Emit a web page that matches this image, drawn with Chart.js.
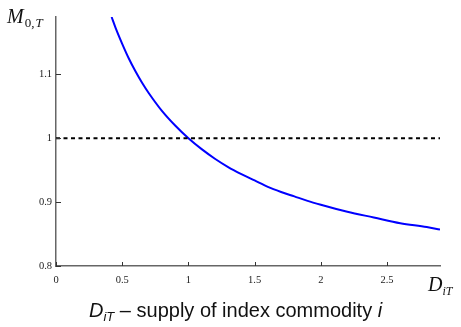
<!DOCTYPE html>
<html>
<head>
<meta charset="utf-8">
<script src="https://cdn.jsdelivr.net/npm/chart.js@4/dist/chart.umd.min.js"></script>
<style>
  html, body { margin: 0; padding: 0; background: #fff; }
  #wrap { width: 461px; height: 327px; position: relative; }
</style>
</head>
<body>
<div id="wrap"><canvas id="c" width="461" height="327"></canvas></div>
<script>
// ---- data ----
const supplyD = [0.42, 0.45, 0.5, 0.55, 0.6, 0.65, 0.7, 0.8, 0.9, 1.0, 1.1, 1.2, 1.3, 1.4, 1.5, 1.6, 1.7, 1.8, 1.9, 2.0, 2.2, 2.4, 2.6, 2.8, 2.9];
const priceM  = [1.190, 1.173, 1.148, 1.125, 1.105, 1.087, 1.071, 1.043, 1.020, 1.000, 0.983, 0.968, 0.955, 0.944, 0.934, 0.924, 0.916, 0.909, 0.902, 0.896, 0.885, 0.876, 0.867, 0.861, 0.857];
const refD = [0, 2.9];
const refM = [1, 1];
const xTicks = [0, 0.5, 1, 1.5, 2, 2.5];
const yTicks = [0.8, 0.9, 1, 1.1];

const curve = supplyD.map((d, i) => ({ x: d, y: priceM[i] }));
const ref = refD.map((d, i) => ({ x: d, y: refM[i] }));

const serif = '"Liberation Serif", "DejaVu Serif", serif';
const sans = '"Liberation Sans", Arial, sans-serif';

const decor = {
  id: 'decor',
  afterDraw(chart) {
    const ctx = chart.ctx;
    const xs = chart.scales.x, ys = chart.scales.y;
    const ca = chart.chartArea;
    ctx.save();
    // inward tick marks
    ctx.strokeStyle = '#333';
    ctx.lineWidth = 1;
    xTicks.forEach(v => {
      const px = Math.round(xs.getPixelForValue(v)) + 0.5;
      ctx.beginPath(); ctx.moveTo(px, ca.bottom); ctx.lineTo(px, ca.bottom - 4); ctx.stroke();
    });
    yTicks.forEach(v => {
      const py = Math.round(ys.getPixelForValue(v)) + 0.5;
      ctx.beginPath(); ctx.moveTo(ca.left, py); ctx.lineTo(ca.left + 5, py); ctx.stroke();
    });
    ctx.fillStyle = '#111';
    ctx.textBaseline = 'alphabetic';
    ctx.textAlign = 'left';
    // y label M_{0,T}
    ctx.font = 'italic 20px ' + serif;
    ctx.fillText('M', 7, 23);
    let w = ctx.measureText('M').width;
    ctx.font = '13px ' + serif;
    ctx.fillText('0,', 7 + w + 1, 27);
    let w2 = ctx.measureText('0,').width;
    ctx.font = 'italic 13px ' + serif;
    ctx.fillText('T', 7 + w + 2 + w2, 27);
    // x label D_{iT}
    ctx.font = 'italic 20px ' + serif;
    ctx.fillText('D', 428, 291);
    w = ctx.measureText('D').width;
    ctx.font = 'italic 12px ' + serif;
    ctx.fillText('iT', 428 + w, 295);
    // bottom caption
    let x = 89;
    const base = 317;
    ctx.font = 'italic 20px ' + sans;
    ctx.fillText('D', x, base); x += ctx.measureText('D').width;
    ctx.font = 'italic 13px ' + sans;
    ctx.fillText('iT', x, base + 4); x += ctx.measureText('iT').width;
    ctx.font = '20px ' + sans;
    const mid = ' \u2013 supply of index commodity ';
    ctx.fillText(mid, x, base); x += ctx.measureText(mid).width;
    ctx.font = 'italic 20px ' + sans;
    ctx.fillText('i', x, base);
    ctx.restore();
  }
};

new Chart(document.getElementById('c'), {
  type: 'line',
  data: {
    datasets: [
      {
        data: ref,
        borderColor: '#000',
        borderWidth: 2,
        borderDash: [4, 3.5],
        pointRadius: 0,
        fill: false
      },
      {
        data: curve,
        borderColor: '#0000ff',
        borderWidth: 2,
        pointRadius: 0,
        cubicInterpolationMode: 'monotone',
        fill: false
      }
    ]
  },
  plugins: [decor],
  options: {
    responsive: false,
    animation: false,
    events: [],
    layout: { padding: { left: 0, right: 21, top: 17, bottom: 0 } },
    plugins: { legend: { display: false }, tooltip: { enabled: false } },
    scales: {
      x: {
        type: 'linear',
        min: 0, max: 2.9,
        afterFit(s) { s.height = 61; },
        afterBuildTicks(s) { s.ticks = xTicks.map(v => ({ value: v })); },
        grid: { display: true, drawOnChartArea: false, drawTicks: false },
        border: { display: true, color: '#666', width: 1.5 },
        ticks: {
          padding: 8,
          color: '#222',
          font: { family: serif, size: 10.5 },
          maxRotation: 0,
          callback: v => String(v)
        }
      },
      y: {
        type: 'linear',
        min: 0.8, max: 1.19,
        afterFit(s) { s.width = 56; },
        afterBuildTicks(s) { s.ticks = yTicks.map(v => ({ value: v })); },
        grid: { display: true, drawOnChartArea: false, drawTicks: false },
        border: { display: true, color: '#666', width: 1.5 },
        ticks: {
          padding: 4,
          color: '#222',
          font: { family: serif, size: 10.5 },
          callback: v => String(v)
        }
      }
    }
  }
});
</script>
</body>
</html>
